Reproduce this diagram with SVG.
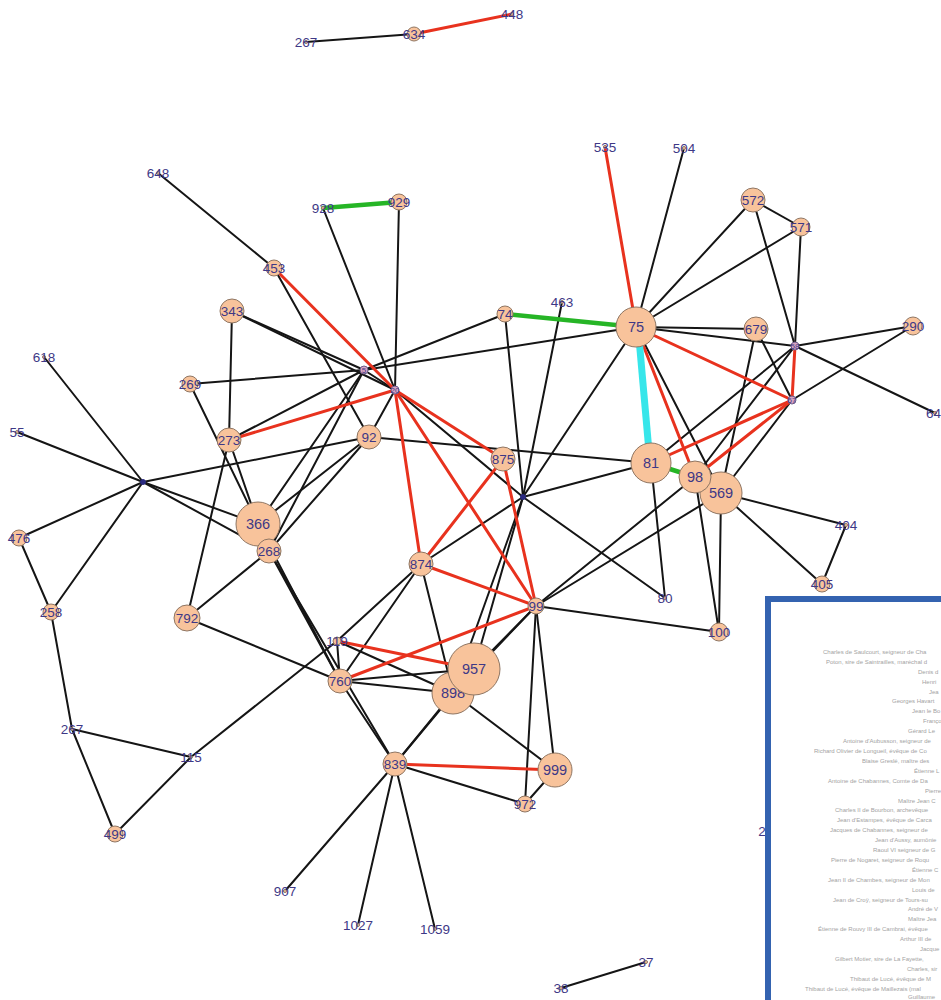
<svg xmlns="http://www.w3.org/2000/svg" width="941" height="1000" viewBox="0 0 941 1000">
<style>
.e line{stroke:#151515;stroke-width:2;stroke-linecap:round}
line.r{stroke:#e8321e;stroke-width:3}
line.g{stroke:#26b526;stroke-width:4.5}
line.c{stroke:#37e6ea;stroke-width:7;stroke-linecap:butt}
.n circle{fill:#f8c39b;stroke:#8f7663;stroke-width:1}
circle.d{fill:#2a2a80;stroke:#2a2a80}
circle.t{fill:#d9a6c2;stroke:#6a5a8a}
text.l{font-family:"Liberation Sans",Arial,sans-serif;font-size:13.5px;fill:#3e3886;text-anchor:middle}
text.b{font-size:14.5px}
text.s{font-size:8px}
.ins text{font-family:"Liberation Sans",Arial,sans-serif;font-size:6px;fill:#a3a3a3}
</style>
<rect width="941" height="1000" fill="#ffffff"/>
<g id="connectors" class="e">
<line x1="306" y1="42" x2="414" y2="34"/>
<line x1="158" y1="173" x2="274" y2="268"/>
<line x1="274" y1="268" x2="369" y2="437"/>
<line x1="323" y1="208" x2="395" y2="390"/>
<line x1="399" y1="202" x2="395" y2="390"/>
<line x1="232" y1="311" x2="229" y2="440"/>
<line x1="232" y1="311" x2="364" y2="370"/>
<line x1="232" y1="311" x2="395" y2="390"/>
<line x1="190" y1="384" x2="364" y2="370"/>
<line x1="190" y1="384" x2="258" y2="524"/>
<line x1="229" y1="440" x2="364" y2="370"/>
<line x1="229" y1="440" x2="258" y2="524"/>
<line x1="229" y1="440" x2="187" y2="618"/>
<line x1="505" y1="314" x2="364" y2="370"/>
<line x1="636" y1="327" x2="364" y2="370"/>
<line x1="364" y1="370" x2="395" y2="390"/>
<line x1="364" y1="370" x2="258" y2="524"/>
<line x1="364" y1="370" x2="269" y2="551"/>
<line x1="395" y1="390" x2="369" y2="437"/>
<line x1="395" y1="390" x2="523" y2="497"/>
<line x1="369" y1="437" x2="258" y2="524"/>
<line x1="369" y1="437" x2="269" y2="551"/>
<line x1="369" y1="437" x2="143" y2="482"/>
<line x1="369" y1="437" x2="651" y2="463"/>
<line x1="44" y1="357" x2="143" y2="482"/>
<line x1="17" y1="432" x2="143" y2="482"/>
<line x1="143" y1="482" x2="19" y2="538"/>
<line x1="143" y1="482" x2="51" y2="612"/>
<line x1="143" y1="482" x2="258" y2="524"/>
<line x1="143" y1="482" x2="269" y2="551"/>
<line x1="19" y1="538" x2="51" y2="612"/>
<line x1="51" y1="612" x2="72" y2="729"/>
<line x1="72" y1="729" x2="191" y2="757"/>
<line x1="72" y1="729" x2="115" y2="834"/>
<line x1="191" y1="757" x2="115" y2="834"/>
<line x1="191" y1="757" x2="337" y2="641"/>
<line x1="187" y1="618" x2="269" y2="551"/>
<line x1="187" y1="618" x2="340" y2="681"/>
<line x1="258" y1="524" x2="340" y2="681"/>
<line x1="269" y1="551" x2="340" y2="681"/>
<line x1="269" y1="551" x2="395" y2="764"/>
<line x1="340" y1="681" x2="395" y2="764"/>
<line x1="337" y1="641" x2="340" y2="681"/>
<line x1="337" y1="641" x2="421" y2="564"/>
<line x1="337" y1="641" x2="453" y2="693"/>
<line x1="340" y1="681" x2="474" y2="669"/>
<line x1="340" y1="681" x2="453" y2="693"/>
<line x1="340" y1="681" x2="421" y2="564"/>
<line x1="421" y1="564" x2="453" y2="693"/>
<line x1="421" y1="564" x2="523" y2="497"/>
<line x1="562" y1="302" x2="523" y2="497"/>
<line x1="505" y1="314" x2="523" y2="497"/>
<line x1="636" y1="327" x2="523" y2="497"/>
<line x1="523" y1="497" x2="651" y2="463"/>
<line x1="523" y1="497" x2="665" y2="598"/>
<line x1="523" y1="497" x2="474" y2="669"/>
<line x1="523" y1="497" x2="453" y2="693"/>
<line x1="536" y1="606" x2="719" y2="632"/>
<line x1="536" y1="606" x2="721" y2="493"/>
<line x1="536" y1="606" x2="695" y2="477"/>
<line x1="536" y1="606" x2="525" y2="804"/>
<line x1="536" y1="606" x2="555" y2="770"/>
<line x1="536" y1="606" x2="474" y2="669"/>
<line x1="536" y1="606" x2="453" y2="693"/>
<line x1="453" y1="693" x2="395" y2="764"/>
<line x1="474" y1="669" x2="395" y2="764"/>
<line x1="453" y1="693" x2="555" y2="770"/>
<line x1="395" y1="764" x2="525" y2="804"/>
<line x1="395" y1="764" x2="285" y2="891"/>
<line x1="395" y1="764" x2="358" y2="925"/>
<line x1="395" y1="764" x2="435" y2="929"/>
<line x1="555" y1="770" x2="525" y2="804"/>
<line x1="684" y1="148" x2="636" y2="327"/>
<line x1="753" y1="200" x2="636" y2="327"/>
<line x1="801" y1="227" x2="636" y2="327"/>
<line x1="753" y1="200" x2="801" y2="227"/>
<line x1="753" y1="200" x2="795" y2="346"/>
<line x1="801" y1="227" x2="795" y2="346"/>
<line x1="636" y1="327" x2="756" y2="329"/>
<line x1="636" y1="327" x2="795" y2="346"/>
<line x1="636" y1="327" x2="721" y2="493"/>
<line x1="756" y1="329" x2="792" y2="400"/>
<line x1="756" y1="329" x2="721" y2="493"/>
<line x1="795" y1="346" x2="913" y2="326"/>
<line x1="795" y1="346" x2="935" y2="413"/>
<line x1="795" y1="346" x2="651" y2="463"/>
<line x1="795" y1="346" x2="695" y2="477"/>
<line x1="792" y1="400" x2="913" y2="326"/>
<line x1="792" y1="400" x2="721" y2="493"/>
<line x1="651" y1="463" x2="665" y2="598"/>
<line x1="695" y1="477" x2="719" y2="632"/>
<line x1="721" y1="493" x2="719" y2="632"/>
<line x1="721" y1="493" x2="846" y2="525"/>
<line x1="721" y1="493" x2="822" y2="584"/>
<line x1="846" y1="525" x2="822" y2="584"/>
<line x1="561" y1="988" x2="646" y2="962"/>
<line class="r" x1="414" y1="34" x2="512" y2="14"/>
<line class="r" x1="274" y1="268" x2="395" y2="390"/>
<line class="r" x1="229" y1="440" x2="395" y2="390"/>
<line class="r" x1="395" y1="390" x2="421" y2="564"/>
<line class="r" x1="395" y1="390" x2="536" y2="606"/>
<line class="r" x1="395" y1="390" x2="503" y2="459"/>
<line class="r" x1="421" y1="564" x2="503" y2="459"/>
<line class="r" x1="421" y1="564" x2="536" y2="606"/>
<line class="r" x1="503" y1="459" x2="536" y2="606"/>
<line class="r" x1="340" y1="681" x2="536" y2="606"/>
<line class="r" x1="337" y1="641" x2="474" y2="669"/>
<line class="r" x1="395" y1="764" x2="555" y2="770"/>
<line class="r" x1="605" y1="147" x2="636" y2="327"/>
<line class="r" x1="636" y1="327" x2="695" y2="477"/>
<line class="r" x1="636" y1="327" x2="792" y2="400"/>
<line class="r" x1="795" y1="346" x2="792" y2="400"/>
<line class="r" x1="792" y1="400" x2="651" y2="463"/>
<line class="r" x1="792" y1="400" x2="695" y2="477"/>
<line class="g" x1="323" y1="208" x2="399" y2="202"/>
<line class="g" x1="505" y1="314" x2="636" y2="327"/>
<line class="g" x1="651" y1="463" x2="695" y2="477"/>
<line class="c" x1="638" y1="327" x2="650" y2="463"/>
</g>
<g id="nodes" class="n">
<g id="n267a"><circle cx="306" cy="42" r="1.5"/><text class="l" x="306" y="47">267</text></g>
<g id="n634"><circle cx="414" cy="34" r="7"/><text class="l" x="414" y="39">634</text></g>
<g id="n448"><circle cx="512" cy="14" r="1.5"/><text class="l" x="512" y="19">448</text></g>
<g id="n648"><circle cx="158" cy="173" r="1.5"/><text class="l" x="158" y="178">648</text></g>
<g id="n928"><circle cx="323" cy="208" r="1.5"/><text class="l" x="323" y="213">928</text></g>
<g id="n929"><circle cx="399" cy="202" r="8"/><text class="l" x="399" y="207">929</text></g>
<g id="n453"><circle cx="274" cy="268" r="8"/><text class="l" x="274" y="273">453</text></g>
<g id="n343"><circle cx="232" cy="311" r="12"/><text class="l" x="232" y="316">343</text></g>
<g id="n74"><circle cx="505" cy="314" r="8"/><text class="l" x="505" y="319">74</text></g>
<g id="n463"><circle cx="562" cy="302" r="1.5"/><text class="l" x="562" y="307">463</text></g>
<g id="n535"><circle cx="605" cy="147" r="1.5"/><text class="l" x="605" y="152">535</text></g>
<g id="n504"><circle cx="684" cy="148" r="1.5"/><text class="l" x="684" y="153">504</text></g>
<g id="n572"><circle cx="753" cy="200" r="12"/><text class="l" x="753" y="205">572</text></g>
<g id="n571"><circle cx="801" cy="227" r="9"/><text class="l" x="801" y="232">571</text></g>
<g id="n75"><circle cx="636" cy="327" r="20"/><text class="l b" x="636" y="332">75</text></g>
<g id="n679"><circle cx="756" cy="329" r="12"/><text class="l" x="756" y="334">679</text></g>
<g id="n290"><circle cx="913" cy="326" r="9"/><text class="l" x="913" y="331">290</text></g>
<g id="n58"><circle class="t" cx="795" cy="346" r="4"/><text class="l s" x="795" y="349">58</text></g>
<g id="n67"><circle class="t" cx="792" cy="400" r="4"/><text class="l s" x="792" y="403">67</text></g>
<g id="n64"><circle cx="935" cy="413" r="1.5"/><text class="l" x="926" y="418" style="text-anchor:start">64</text></g>
<g id="n618"><circle cx="44" cy="357" r="1.5"/><text class="l" x="44" y="362">618</text></g>
<g id="n269"><circle cx="190" cy="384" r="8"/><text class="l" x="190" y="389">269</text></g>
<g id="n5"><circle class="t" cx="364" cy="370" r="4"/><text class="l s" x="364" y="373">5</text></g>
<g id="n20"><circle class="t" cx="395" cy="390" r="4"/><text class="l s" x="395" y="393">20</text></g>
<g id="n273"><circle cx="229" cy="440" r="12"/><text class="l" x="229" y="445">273</text></g>
<g id="n92"><circle cx="369" cy="437" r="12"/><text class="l" x="369" y="442">92</text></g>
<g id="n55"><circle cx="17" cy="432" r="1.5"/><text class="l" x="17" y="437">55</text></g>
<g id="n875"><circle cx="503" cy="459" r="12"/><text class="l" x="503" y="464">875</text></g>
<g id="n81"><circle cx="651" cy="463" r="20"/><text class="l b" x="651" y="468">81</text></g>
<g id="n569"><circle cx="721" cy="493" r="21"/><text class="l b" x="721" y="498">569</text></g>
<g id="n98"><circle cx="695" cy="477" r="16"/><text class="l b" x="695" y="482">98</text></g>
<g id="n143"><circle class="d" cx="143" cy="482" r="2.5"/></g>
<g id="n523"><circle class="d" cx="523" cy="497" r="2.5"/></g>
<g id="n366"><circle cx="258" cy="524" r="22"/><text class="l b" x="258" y="529">366</text></g>
<g id="n268"><circle cx="269" cy="551" r="12"/><text class="l" x="269" y="556">268</text></g>
<g id="n476"><circle cx="19" cy="538" r="8"/><text class="l" x="19" y="543">476</text></g>
<g id="n874"><circle cx="421" cy="564" r="12"/><text class="l" x="421" y="569">874</text></g>
<g id="n404"><circle cx="846" cy="525" r="1.5"/><text class="l" x="846" y="530">404</text></g>
<g id="n405"><circle cx="822" cy="584" r="8"/><text class="l" x="822" y="589">405</text></g>
<g id="n258"><circle cx="51" cy="612" r="8"/><text class="l" x="51" y="617">258</text></g>
<g id="n792"><circle cx="187" cy="618" r="13"/><text class="l" x="187" y="623">792</text></g>
<g id="n99"><circle cx="536" cy="606" r="8"/><text class="l" x="536" y="611">99</text></g>
<g id="n80"><circle cx="665" cy="598" r="1.5"/><text class="l" x="665" y="603">80</text></g>
<g id="n100"><circle cx="719" cy="632" r="9"/><text class="l" x="719" y="637">100</text></g>
<g id="n119"><circle cx="337" cy="641" r="4"/><text class="l" x="337" y="646">119</text></g>
<g id="n898"><circle cx="453" cy="693" r="21"/><text class="l b" x="453" y="698">898</text></g>
<g id="n957"><circle cx="474" cy="669" r="26"/><text class="l b" x="474" y="674">957</text></g>
<g id="n760"><circle cx="340" cy="681" r="12"/><text class="l" x="340" y="686">760</text></g>
<g id="n267b"><circle cx="72" cy="729" r="1.5"/><text class="l" x="72" y="734">267</text></g>
<g id="n115"><circle cx="191" cy="757" r="1.5"/><text class="l" x="191" y="762">115</text></g>
<g id="n839"><circle cx="395" cy="764" r="12"/><text class="l" x="395" y="769">839</text></g>
<g id="n999"><circle cx="555" cy="770" r="17"/><text class="l b" x="555" y="775">999</text></g>
<g id="n972"><circle cx="525" cy="804" r="8"/><text class="l" x="525" y="809">972</text></g>
<g id="n499"><circle cx="115" cy="834" r="8"/><text class="l" x="115" y="839">499</text></g>
<g id="n907"><circle cx="285" cy="891" r="1.5"/><text class="l" x="285" y="896">907</text></g>
<g id="n1027"><circle cx="358" cy="925" r="1.5"/><text class="l" x="358" y="930">1027</text></g>
<g id="n1059"><circle cx="435" cy="929" r="1.5"/><text class="l" x="435" y="934">1059</text></g>
<g id="n38"><circle cx="561" cy="988" r="1.5"/><text class="l" x="561" y="993">38</text></g>
<g id="n37"><circle cx="646" cy="962" r="1.5"/><text class="l" x="646" y="967">37</text></g>
<text class="l" x="762" y="836">2</text>
</g>
<g id="inset" class="ins">
<rect x="768" y="599" width="200" height="420" fill="#ffffff" stroke="#3463b0" stroke-width="6"/>
<text x="823" y="654">Charles de Saulcourt, seigneur de Cha</text>
<text x="826" y="664">Poton, sire de Saintrailles, maréchal d</text>
<text x="918" y="674">Denis d</text>
<text x="922" y="684">Henri</text>
<text x="929" y="694">Jea</text>
<text x="892" y="703">Georges Havart</text>
<text x="912" y="713">Jean le Bo</text>
<text x="923" y="723">Franço</text>
<text x="908" y="733">Gérard Le</text>
<text x="843" y="743">Antoine d'Aubusson, seigneur de</text>
<text x="814" y="753">Richard Olivier de Longueil, évêque de Co</text>
<text x="862" y="763">Blaise Greslé, maître des</text>
<text x="914" y="773">Étienne L</text>
<text x="828" y="783">Antoine de Chabannes, Comte de Da</text>
<text x="925" y="793">Pierre</text>
<text x="898" y="803">Maître Jean C</text>
<text x="835" y="812">Charles II de Bourbon, archevêque</text>
<text x="837" y="822">Jean d'Estampes, évêque de Carca</text>
<text x="830" y="832">Jacques de Chabannes, seigneur de</text>
<text x="875" y="842">Jean d'Aussy, aumônie</text>
<text x="873" y="852">Raoul VI seigneur de G</text>
<text x="831" y="862">Pierre de Nogaret, seigneur de Roqu</text>
<text x="912" y="872">Étienne C</text>
<text x="828" y="882">Jean II de Chambes, seigneur de Mon</text>
<text x="912" y="892">Louis de</text>
<text x="833" y="902">Jean de Croÿ, seigneur de Tours-su</text>
<text x="908" y="911">André de V</text>
<text x="908" y="921">Maître Jea</text>
<text x="818" y="931">Étienne de Rouvy III de Cambrai, évêque</text>
<text x="900" y="941">Arthur III de</text>
<text x="920" y="951">Jacque</text>
<text x="835" y="961">Gilbert Motier, sire de La Fayette,</text>
<text x="907" y="971">Charles, sir</text>
<text x="850" y="981">Thibaut de Lucé, évêque de M</text>
<text x="805" y="991">Thibaut de Lucé, évêque de Maillezais (mal</text>
<text x="908" y="999">Guillaume</text>
</g>
</svg>
